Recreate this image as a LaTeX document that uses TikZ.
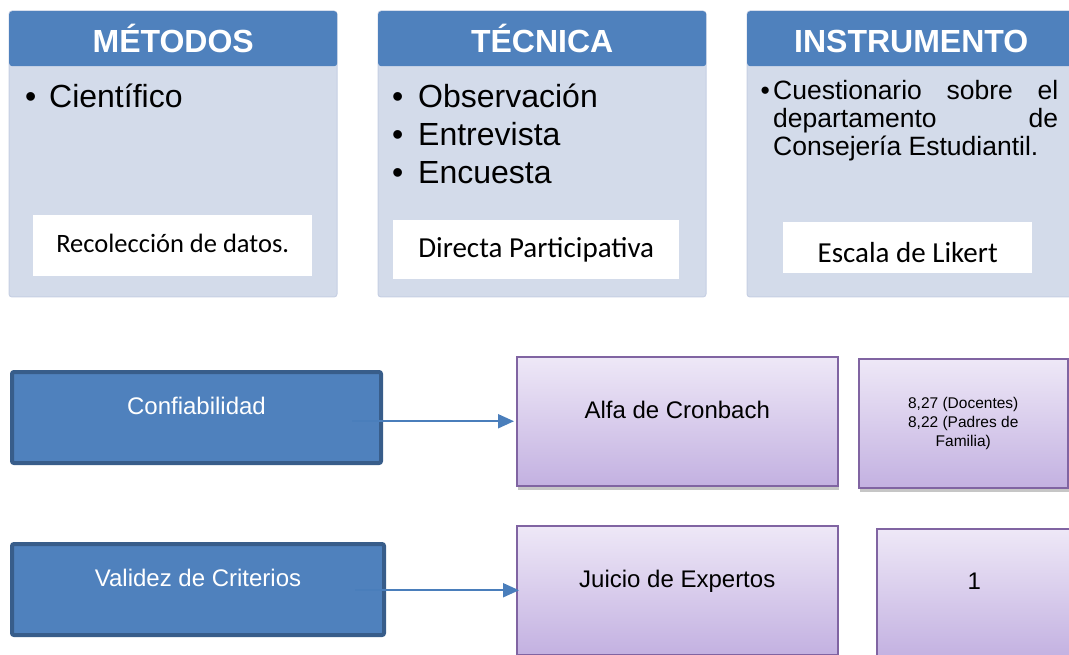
\documentclass[tikz,border=0pt]{standalone}
\usepackage{fontspec}
\setmainfont{Liberation Sans}
\newfontfamily\calibri{Carlito}
\usetikzlibrary{shadows,arrows.meta}

\definecolor{headblue}{HTML}{4F81BD}
\definecolor{panelblue}{HTML}{D3DBEA}
\definecolor{panelline}{HTML}{C6CFE3}
\definecolor{darkblue}{HTML}{385D8A}
\definecolor{lilaclight}{HTML}{EEE8F7}
\definecolor{lilacdark}{HTML}{C3B1E1}
\definecolor{lilacline}{HTML}{8064A2}
\definecolor{arrowblue}{HTML}{4A7EBB}

\begin{document}
\begin{tikzpicture}[x=1pt, y=-1pt,
  bodybox/.style={draw=panelline, fill=panelblue, line width=1pt, rounded corners=3pt},
  headbox/.style={fill=headblue, rounded corners=3pt, minimum width=328pt, text height=41pt, text depth=14pt,
    inner sep=0pt, anchor=north west, text=white, font=\bfseries\fontsize{32}{38}\selectfont},
  itembox/.style={anchor=base west, inner sep=0pt, font=\fontsize{32}{38}\selectfont},
  notebox/.style={fill=white, inner sep=0pt, anchor=north west},
  leftbox/.style={draw=darkblue, fill=headblue, line width=4pt, rounded corners=2pt, text=white,
    inner sep=0pt, anchor=north west, text height=42pt, text depth=49pt,
    font=\fontsize{24}{28}\selectfont},
  lilacbox/.style={draw=lilacline, line width=1.5pt, top color=lilaclight, bottom color=lilacdark,
    drop shadow={shadow xshift=1pt, shadow yshift=-4pt, opacity=0.45},
    inner sep=0pt, anchor=north west, font=\fontsize{24}{28}\selectfont},
  link/.style={draw=arrowblue, line width=2pt, -{Triangle[length=16pt,width=14pt]}}]
  \useasboundingbox (0,0) rectangle (1069,655);

  \draw[bodybox] (9,11) rectangle (337,297);
  \draw[bodybox] (378,11) rectangle (706,297);
  \draw[bodybox] (747,11) rectangle (1075,297);

  \node[headbox] (metodos) at (9,11) {MÉTODOS};
  \node[headbox] (tecnica) at (378,11) {TÉCNICA};
  \node[headbox] (instrumento) at (747,11) {INSTRUMENTO};

  \node[itembox] (cientifico) at (25,108) {\makebox[24pt][l]{•}Científico};
  \node[itembox] (observacion) at (392,108) {\makebox[26pt][l]{•}Observación};
  \node[itembox] (entrevista) at (392,146) {\makebox[26pt][l]{•}Entrevista};
  \node[itembox] (encuesta) at (392,184) {\makebox[26pt][l]{•}Encuesta};

  \node[itembox, font=\fontsize{26.5}{28}\selectfont] (cuest) at (760.5,100)
    {\makebox[12.5pt][l]{•}\makebox[285pt][s]{Cuestionario sobre el}};
  \node[itembox, font=\fontsize{26.5}{28}\selectfont] (depto) at (773,128)
    {\makebox[285pt][s]{departamento de}};
  \node[itembox, font=\fontsize{26.5}{28}\selectfont] (consej) at (773,156)
    {Consejería Estudiantil.};

  \node[notebox, minimum width=279pt, text height=37pt, text depth=24pt,
    font=\calibri\fontsize{26.5}{30}\selectfont] (datos) at (33,215) {Recolección de datos.};
  \node[notebox, minimum width=286pt, text height=37pt, text depth=22pt,
    font=\calibri\fontsize{29}{34}\selectfont] (directa) at (393,220) {Directa Participativa};
  \node[notebox, minimum width=249pt, text height=40pt, text depth=11pt,
    font=\calibri\fontsize{29}{34}\selectfont] (likert) at (783,222) {Escala de Likert};

  \node[leftbox, minimum width=369pt] (conf) at (10,370) {Confiabilidad};
  \node[leftbox, minimum width=372pt] (validez) at (10,542) {Validez de Criterios};

  \node[lilacbox, minimum width=321pt, text height=62pt, text depth=67pt] (alfa) at (516,356) {Alfa de Cronbach};
  \node[lilacbox, minimum width=209pt, minimum height=129pt, align=center,
    font=\fontsize{15.5}{19}\selectfont] (alfavalor) at (858,358) {8,27 (Docentes)\\8,22 (Padres de\\Familia)};
  \node[lilacbox, minimum width=321pt, text height=62pt, text depth=67pt] (juicio) at (516,525) {Juicio de Expertos};
  \node[lilacbox, minimum width=195pt, text height=61pt, text depth=68pt] (juiciovalor) at (876,528) {1};

  \coordinate (confout) at (352,421.25);
  \coordinate (valout) at (355,590.25);
  \draw[link, shorten >=2pt] (confout) -- (alfa.west);
  \draw[link, shorten >=-3pt] (valout) -- (juicio.west);
\end{tikzpicture}
\end{document}
